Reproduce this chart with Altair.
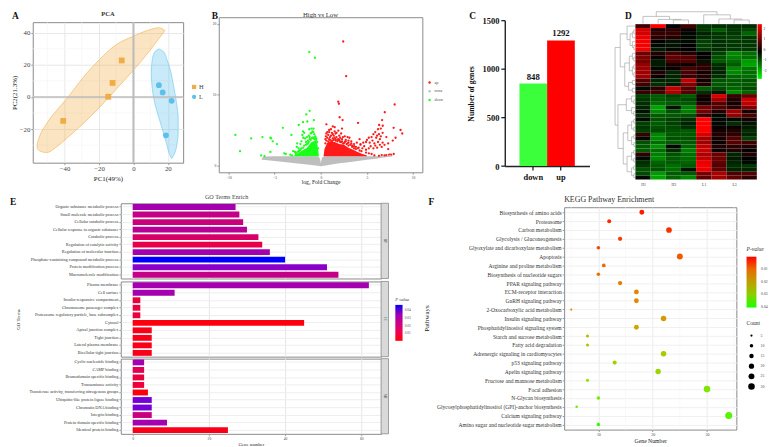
import altair as alt
import pandas as pd

SERIF = "Liberation Serif"
FRAME = "#8a8a8a"

# ---------- A: PCA ----------
pca_group = ["H", "H", "H", "H", "L", "L", "L", "L"]
pca_x = [-40.8, -14.6, -12.1, -6.8, 14.8, 17.0, 22.2, 18.9]
pca_y = [-14.9, 0.1, 8.7, 22.7, 7.3, 2.8, -2.4, -23.9]
h_x = [-55.9, -54.3, -50.5, -44.7, -38.9, -29.3, -19.7, -10.0, -0.4, 9.2, 15.0, 18.3]
h_top = [-29.0, -23.9, -16.7, -8.5, -1.3, 12.0, 23.3, 32.5, 37.6, 41.7, 43.0, 41.3]
h_bot = [-32.1, -33.7, -34.6, -31.1, -25.9, -16.7, -6.5, 4.8, 16.1, 28.4, 36.6, 41.3]
l_y = [29.8, 28.4, 23.3, 15.1, 6.9, -3.4, -13.6, -21.8, -30.0, -35.2, -38.3]
l_left = [15.0, 12.7, 11.0, 10.4, 10.8, 12.3, 15.0, 17.3, 19.5, 20.8, 22.2]
l_right = [15.0, 17.3, 19.5, 21.8, 23.3, 25.0, 26.0, 26.0, 25.2, 23.9, 22.2]
pca_minor_x = [-50, -30, -10, 10]
pca_major_x = [-40, -20, 0, 20]
pca_minor_y = [-30, -10, 10, 30]
pca_major_y = [-20, 0, 20, 40]

# ---------- B: volcano ----------
none_x = [-6.4, -6, -5, -4, -3, -2, -1, -0.4, -0.15, -0.05, 0, 0.05, 0.15, 0.4, 1, 2, 3, 4, 5, 6, 6.8, 7.8]
none_hi = [0.98, 1.26, 1.3, 1.3, 1.3, 1.3, 1.3, 1.3, 1.1, 0.7, 0.3, 0.7, 1.1, 1.3, 1.3, 1.3, 1.3, 1.3, 1.3, 1.3, 1.3, 1.4]
none_lo = [0.8, 0.75, 0.6, 0.47, 0.33, 0.2, 0.05, -0.05, -0.1, -0.13, -0.14, -0.13, -0.1, -0.05, 0.1, 0.28, 0.45, 0.62, 0.8, 0.95, 1.1, 1.3]
up_core_x = [0.3, 0.4, 0.7, 1, 1.5, 2, 2.5, 3, 3.5, 4, 4.5, 5]
up_core_y = [1.3, 2.3, 3.2, 3.4, 3.3, 3.0, 2.9, 2.5, 2.2, 1.9, 1.6, 1.4]
down_core_x = [-3, -2.5, -2, -1.5, -1, -0.6, -0.4, -0.25, -0.2]
down_core_y = [1.3, 1.7, 2.1, 2.5, 3.3, 3.5, 3.2, 1.9, 1.3]
up_x = [2.43, 2.75, 1.89, 1.96, 8.0, 6.93, 2.04, 2.36, 4.04, 6.64, 0.61, 6.32, 6.71, 7.89, 8.64, 8.82, 8.1, 7.8, 7.3,
        1.3, 1.5, 1.1, 0.9, 2.3, 2.2, 1.9, 0.7, 1.2, 1.6, 0.8, 1.4, 2.0, 2.6, 2.9, 1.0, 1.7, 0.55, 0.5, 1.3, 2.3, 2.7, 3.0, 3.3, 2.0, 1.6,
        3.6, 3.9, 2.9, 3.4, 3.8, 4.2, 4.3, 4.1, 4.5, 4.7, 4.4, 4.9, 5.2, 4.9, 5.2, 5.5,
        4.3, 4.6, 4.9, 5.0, 5.2, 5.3, 5.5, 5.6, 5.7, 5.8, 5.9, 6.0, 6.1, 6.2, 6.3, 6.4, 6.5, 6.5, 6.7, 6.2, 5.9, 6.4, 6.7, 5.4, 5.7, 6.1, 6.6, 6.9, 7.1, 7.3,
        5.8, 6.3, 6.6, 6.9, 7.1, 7.4, 7.6, 7.9, 3.1,
        0.5, 0.6, 0.7, 0.8, 0.9, 1.0, 1.1, 1.2, 1.3, 1.4, 1.5, 1.6, 1.7, 1.8, 1.9, 2.0, 2.1, 2.2, 2.3, 2.4, 2.5, 2.6, 2.8, 3.0, 3.2, 3.4, 3.6, 3.8, 4.0, 4.2,
        0.6, 0.9, 1.2, 1.5, 1.8, 2.1, 2.4, 2.7, 3.0, 3.3, 3.6]
up_y = [17.5, 12.6, 9.0, 8.7, 8.6, 7.5, 6.8, 6.4, 6.0, 6.4, 5.8, 5.7, 5.6, 5.3, 5.0, 4.5, 3.9, 3.5, 3.1,
        5.5, 5.4, 5.1, 5.0, 5.2, 4.5, 4.9, 4.7, 4.6, 4.5, 4.3, 4.2, 4.2, 4.1, 4.0, 4.0, 4.0, 4.1, 3.7, 3.8, 3.7, 3.6, 3.5, 3.4, 3.6, 3.7,
        3.0, 3.2, 3.1, 2.8, 2.6, 3.7, 2.9, 2.5, 2.4, 2.7, 2.0, 2.2, 2.4, 1.8, 1.7, 1.6,
        3.0, 3.2, 3.3, 3.6, 3.9, 3.2, 4.0, 3.5, 4.4, 3.1, 4.7, 3.9, 4.2, 5.1, 4.4, 3.7, 5.2, 4.1, 4.6, 3.3, 2.8, 2.9, 3.2, 2.7, 2.4, 2.5, 2.6, 2.9, 4.0, 2.3,
        1.4, 1.35, 1.45, 1.4, 1.45, 1.5, 1.5, 1.6, 3.9,
        3.1, 3.5, 3.9, 3.4, 3.7, 3.6, 4.2, 3.5, 4.4, 3.6, 3.9, 3.5, 4.6, 3.4, 3.7, 3.5, 3.9, 3.3, 3.4, 4.0, 3.1, 3.3, 3.0, 3.2, 2.9, 2.6, 2.7, 2.3, 2.4, 2.1,
        4.5, 4.7, 3.3, 4.8, 3.6, 3.3, 3.1, 3.4, 2.8, 3.1, 2.4]
down_x = [-1.25, -0.64, -1.21, -1.57, -0.75, -1.46, -1.93, -2.39, -4.11, -1.0, -1.25, -0.79, -1.93, -3.18, -9.25, -7.54, -6.32, -5.46, -5.39, -5.21, -4.75, -8.75, -5.46, -6.46, -6.1, -3.96, -3.79,
          -3.0, -2.8, -2.6, -2.55, -2.4, -2.2, -2.1, -2.0, -1.9, -1.8, -1.7, -1.6, -1.5, -1.4, -1.3, -1.2, -1.1, -1.0, -0.9, -0.8, -0.7, -0.6, -0.5, -0.9, -2.3, -2.7, -3.3, -3.1,
          -0.3, -0.4, -0.5, -0.6, -0.7, -0.8, -1.0, -1.1, -1.2, -1.3, -1.4, -1.5, -1.6, -1.8, -1.9, -2.1, -2.2, -2.4, -2.5, -2.7]
down_y = [16.0, 15.2, 7.7, 7.2, 6.4, 6.2, 6.1, 5.7, 5.3, 5.2, 5.1, 5.2, 4.8, 4.3, 4.3, 3.8, 4.0, 3.9, 3.8, 3.4, 3.0, 2.0, 1.9, 1.4, 1.3, 1.7, 1.6,
          2.0, 1.9, 2.6, 3.1, 2.4, 3.0, 3.4, 4.3, 3.9, 4.6, 3.8, 3.3, 4.0, 3.5, 4.2, 3.7, 4.5, 4.6, 4.8, 4.7, 4.4, 4.0, 3.8, 3.9, 2.1, 1.6, 1.5, 1.4,
          2.4, 3.3, 3.6, 4.1, 3.7, 3.9, 3.8, 3.6, 4.0, 3.3, 3.1, 3.0, 2.9, 2.8, 2.5, 2.4, 2.2, 2.0, 1.9, 1.8]
flat_x = [-6.2, 7.5]
flat_y = [1.05, 1.35]

# ---------- C: bars ----------
deg_names = ["down", "up"]
deg_counts = [848, 1292]

# ---------- D: heatmap ----------
heat_cols = ["H1", "H2", "H3", "H4", "L1", "L2", "L3", "L4"]
heat = [
    [0.6, 2.4, 0, 0.6, -0.6, -0.5, -0.5, -0.5],
    [2.0, 0.3, 0.4, 0.1, -0.6, -1.0, -0.6, -0.8],
    [2.0, 0.5, 0.5, -0.1, -0.4, -0.6, -0.6, -1.1],
    [2.2, 0.4, 0.3, -0.1, -0.5, -0.6, -0.7, -0.6],
    [2.3, 0, -0.2, -0.1, -0.7, -0.5, -0.6, -0.6],
    [2.3, -0.1, -0.2, 0, -0.7, -0.5, -0.6, -0.6],
    [2.3, -0.3, -0.1, 0, -0.6, -0.5, -0.6, -0.6],
    [1.0, 0.3, 0.6, 0.3, 0, -0.7, -1.5, -1.2],
    [1.2, 0.1, 0.9, 0.8, 0.1, -0.9, -1.4, -1.2],
    [1.1, -0.3, 0.7, 0.8, -0.2, -1.0, -1.2, -1.7],
    [1.4, -0.3, 0.2, 0.1, 0.4, -0.5, -1.0, -1.8],
    [1.5, -0.1, 0.1, 0.7, 0.4, -0.4, -1.5, -1.3],
    [1.5, 0.3, -0.4, 0.7, 0.2, -0.4, -1.5, -1.2],
    [1.5, 0.1, -0.4, 0.5, 0.3, -0.5, -1.1, -1.2],
    [0.8, -0.4, -0.4, 1.8, 0.2, -0.9, -1.0, -0.9],
    [0.6, -0.5, -0.3, 1.2, 0.3, -1.0, -1.0, -1.0],
    [-0.1, 0.4, 1.8, 0.8, -1.0, -0.8, -1.1, -0.8],
    [0.5, 0.6, 1.6, 0.8, -0.5, -0.3, -1.5, -1.1],
    [-0.7, -1.0, -0.7, -1.0, 0.2, 2.0, 0.5, 1.0],
    [-0.6, -1.0, -0.9, -0.8, 0.1, 1.5, 0.3, 1.9],
    [-0.5, -1.2, -1.0, -1.0, 0.3, 0.8, 0.2, 1.8],
    [-0.4, -1.8, -0.2, -1.4, 1.1, 0.8, 0.4, 1.2],
    [-0.2, -1.5, -0.9, -1.4, 1.1, 0.3, 1.5, 0.2],
    [-0.5, -1.0, -1.0, -0.9, 0.5, -0.1, 1.4, 0.7],
    [-0.1, -0.9, -0.7, -0.5, 2.4, -0.1, -0.1, 0.2],
    [-0.7, -1.0, -0.7, -0.4, 2.4, -0.1, -0.5, -0.2],
    [-0.6, -0.9, -0.8, -0.5, 2.4, 0.1, 0.1, -0.3],
    [-0.7, -0.8, -0.9, -1.0, 2.4, 0.2, 0.3, -0.5],
    [0.5, -1.5, -1.0, -1.0, 2.0, 0.3, 0.4, -0.4],
    [-0.1, -1.5, -0.9, -0.9, 1.5, 0.2, 0.8, -0.7],
    [-0.9, -1.2, -1.0, -1.0, 1.5, 0.1, 0.8, 0.6],
    [-1.0, -1.6, -0.1, -1.1, 1.8, 0.3, 0.4, 0.3],
    [-1.0, -1.2, -0.5, -1.4, 1.9, 0.1, 0.3, 0],
    [0.4, -1.4, -0.9, -1.2, 1.6, 1.0, -0.4, 0.3],
    [-0.1, -1.5, -1.0, -1.2, 1.8, 1.0, -0.3, 0],
    [-0.5, -1.1, -1.0, -1.1, 2.2, 0.9, -0.4, -0.1],
    [-0.6, -1.0, -1.2, -1.0, 2.3, 0.8, -0.5, -0.6],
    [-0.9, -0.9, -1.2, -0.2, 2.2, 0.9, -0.4, -0.4],
    [-0.8, -1.7, -1.0, -1.0, 1.1, 1.6, 0.7, 0.8],
    [-0.1, -1.8, -1.1, -1.5, 0.9, 1.5, 0.9, 0.4],
]
heat_legend_labels = ["2", "1", "0", "-1", "-2"]
# dendrogram brackets: level, span start, span end, child level at start, child level at end
col_tree = [
    (-3.2, 1.375, 5.375, -2.0, -2.4),
    (-2.0, 0.5, 2.25, -0.1, -1.22),
    (-1.22, 1.5, 3.0, -0.1, -1.07),
    (-1.07, 2.5, 3.5, -0.1, -0.1),
    (-2.4, 4.5, 6.25, -0.1, -1.32),
    (-1.32, 5.5, 7.0, -0.1, -1.07),
    (-1.07, 6.5, 7.5, -0.1, -0.1),
]
row_tree = [
    (-1.34, 6, 26, -1.0, -1.15),
    (-1.0, 2.5, 11, -0.55, -0.7),
    (-0.55, 0.5, 4, -0.02, -0.35),
    (-0.35, 2.5, 5.5, -0.2, -0.2),
    (-0.2, 2, 3.5, -0.1, -0.02),
    (-0.1, 1.5, 2.5, -0.02, -0.02),
    (-0.2, 4.5, 6, -0.02, -0.1),
    (-0.1, 5.5, 6.5, -0.02, -0.02),
    (-0.7, 10, 16, -0.4, -0.45),
    (-0.4, 8.25, 12, -0.2, -0.2),
    (-0.2, 7.5, 9, -0.02, -0.1),
    (-0.1, 8.5, 9.5, -0.02, -0.02),
    (-0.2, 11, 13, -0.1, -0.1),
    (-0.1, 10.5, 11.5, -0.02, -0.02),
    (-0.1, 12.5, 13.5, -0.02, -0.02),
    (-0.45, 15, 17, -0.2, -0.2),
    (-0.2, 14.5, 15.5, -0.02, -0.02),
    (-0.2, 16.5, 17.5, -0.02, -0.02),
    (-1.15, 20.75, 32, -0.6, -0.8),
    (-0.6, 19.25, 22.25, -0.25, -0.25),
    (-0.25, 18.5, 20, -0.02, -0.1),
    (-0.1, 19.5, 20.5, -0.02, -0.02),
    (-0.25, 21.5, 23, -0.02, -0.1),
    (-0.1, 22.5, 23.5, -0.02, -0.02),
    (-0.8, 28, 36, -0.5, -0.55),
    (-0.5, 26, 30, -0.25, -0.25),
    (-0.25, 25, 27, -0.1, -0.1),
    (-0.1, 24.5, 25.5, -0.02, -0.02),
    (-0.1, 26.5, 27.5, -0.02, -0.02),
    (-0.25, 29, 31, -0.1, -0.1),
    (-0.1, 28.5, 29.5, -0.02, -0.02),
    (-0.1, 30.5, 31.5, -0.02, -0.02),
    (-0.55, 34, 38, -0.25, -0.25),
    (-0.25, 33, 35, -0.1, -0.1),
    (-0.1, 32.5, 33.5, -0.02, -0.02),
    (-0.1, 34.5, 35.5, -0.02, -0.02),
    (-0.25, 37, 39, -0.1, -0.1),
    (-0.1, 36.5, 37.5, -0.02, -0.02),
    (-0.1, 38.5, 39.5, -0.02, -0.02),
]

# ---------- E: GO ----------
bp_names = ["Organic substance metabolic process", "Small molecule metabolic process", "Cellular catabolic process",
            "Cellular response to organic substance", "Catabolic process", "Regulation of catalytic activity",
            "Regulation of molecular function", "Phosphate-containing compound metabolic process",
            "Protein modification process", "Macromolecule modification"]
bp_genes = [27, 28, 29, 30, 33, 34, 36, 40, 51, 54]
bp_p = [0.03, 0.022, 0.02, 0.025, 0.016, 0.01, 0.03, 0.045, 0.035, 0.022]
cc_names = ["Plasma membrane", "Cell surface", "Insulin-responsive compartment", "Chromosome passenger complex",
            "Proteasome regulatory particle, base subcomplex", "Cytosol", "Apical junction complex", "Tight junction",
            "Lateral plasma membrane", "Bicellular tight junction"]
cc_genes = [62, 11, 2, 2, 2, 45, 5, 5, 5, 5]
cc_p = [0.03, 0.03, 0.008, 0.008, 0.008, 0.001, 0.002, 0.002, 0.002, 0.002]
mf_names = ["Cyclic nucleotide binding", "CAMP binding", "Bromodomain specific binding", "Transaminase activity",
            "Transferase activity, transferring nitrogenous groups", "Ubiquitin-like protein ligase binding",
            "Chromatin DNA binding", "Integrin binding", "Protein domain specific binding", "Identical protein binding"]
mf_genes = [3, 3, 3, 3, 4, 5, 5, 5, 9, 25]
mf_p = [0.03, 0.012, 0.008, 0.007, 0.001, 0.038, 0.038, 0.02, 0.03, 0.002]
go_legend_labels = ["0.04", "0.03", "0.02", "0.01"]

# ---------- F: KEGG ----------
kegg_names = ["Biosynthesis of amino acids", "Proteasome", "Carbon metabolism", "Glycolysis / Gluconeogenesis",
              "Glyoxylate and dicarboxylate metabolism", "Apoptosis", "Arginine and proline metabolism",
              "Biosynthesis of nucleotide sugars", "PPAR signaling pathway", "ECM-receptor interaction",
              "GnRH signaling pathway", "2-Oxocarboxylic acid metabolism", "Insulin signaling pathway",
              "Phosphatidylinositol signaling system", "Starch and sucrose metabolism", "Fatty acid degradation",
              "Adrenergic signaling in cardiomyocytes", "p53 signaling pathway", "Apelin signaling pathway",
              "Fructose and mannose metabolism", "Focal adhesion", "N-Glycan biosynthesis",
              "Glycosylphosphatidylinositol (GPI)-anchor biosynthesis", "Calcium signaling pathway",
              "Amino sugar and nucleotide sugar metabolism"]
kegg_genes = [18, 12, 23, 14, 10, 25, 11, 10, 14, 17, 17, 5, 22, 17, 8, 8, 22, 13, 21, 8, 30, 10, 6, 34, 10]
kegg_p = [0.001, 0.0015, 0.002, 0.003, 0.004, 0.006, 0.008, 0.009, 0.011, 0.013, 0.0135, 0.014, 0.017, 0.019,
          0.022, 0.026, 0.027, 0.029, 0.03, 0.032, 0.034, 0.035, 0.036, 0.038, 0.04]
kegg_minor = [5, 15, 25, 35]
kegg_legend_labels = ["0.01", "0.02", "0.03", "0.04"]
count_ticks = [5, 10, 15, 20, 25, 30]

one = pd.DataFrame({"a": [0]})


def spacer(w, h):
    return alt.Chart(one).mark_point(opacity=0, size=1).encode(x=alt.value(0), y=alt.value(0)).properties(width=w, height=h)


def letter(t, dx, dy):
    return alt.Chart(one).mark_text(text=t, font=SERIF, fontSize=9.5, fontWeight="bold", align="left", baseline="middle", color="#111").encode(
        x=alt.value(dx), y=alt.value(dy))


def note(t, dx, dy, size=4, color="#444", align="left", **kw):
    return alt.Chart(one).mark_text(text=t, font=SERIF, fontSize=size, color=color, align=align, baseline="middle", **kw).encode(
        x=alt.value(dx), y=alt.value(dy))


def gradient_bar(x0, x1, y0, y1, colours):
    stops = [{"offset": i / (len(colours) - 1), "color": c} for i, c in enumerate(colours)]
    return alt.Chart(one).mark_rect(fill={"gradient": "linear", "x1": 0, "y1": 0, "x2": 0, "y2": 1, "stops": stops}).encode(
        x=alt.value(x0), x2=alt.value(x1), y=alt.value(y0), y2=alt.value(y1))


def place(y, *charts):
    # y is the wanted top of the panel in page pixels
    return alt.vconcat(spacer(1, y - 8), *charts, spacing=0, bounds="flush")


# ---------- panel A ----------
sx = alt.Scale(domain=[-58.5, 28.9], nice=False, zero=False)
sy = alt.Scale(domain=[-40.9, 46.5], nice=False, zero=False)
ax_a_x = alt.Axis(title="PC1(49%)", values=pca_major_x, grid=True, gridColor="#e8e8e8", labelFontSize=6.8, titleFontSize=7,
                  tickSize=2, tickColor="#666", labelColor="#444", titleColor="#222", labelPadding=1, domain=False, titlePadding=2)
ax_a_y = alt.Axis(title="PC2(21.3%)", values=pca_major_y, grid=True, gridColor="#e8e8e8", labelFontSize=6.8, titleFontSize=7,
                  tickSize=2, tickColor="#666", labelColor="#444", titleColor="#222", labelPadding=1, domain=False, titleX=-15, titleY=71)

pca_df = pd.DataFrame({"PC1": pca_x, "PC2": pca_y, "group": pca_group})
h_df = pd.DataFrame({"x": h_x, "top": h_top, "bot": h_bot})
l_df = pd.DataFrame({"y": l_y, "l": l_left, "r": l_right})

a = alt.layer(
    alt.Chart(pd.DataFrame({"v": pca_minor_x})).mark_rule(color="#f4f4f4", strokeWidth=0.6).encode(x=alt.X("v:Q", scale=sx, axis=ax_a_x)),
    alt.Chart(pd.DataFrame({"v": pca_minor_y})).mark_rule(color="#f4f4f4", strokeWidth=0.6).encode(y=alt.Y("v:Q", scale=sy, axis=ax_a_y)),
    alt.Chart(h_df).mark_area(interpolate="monotone", fill="#F0AC45", fillOpacity=0.33, stroke="#F3BE72", strokeWidth=0.8).encode(
        x=alt.X("x:Q", scale=sx), y=alt.Y("top:Q", scale=sy), y2="bot:Q"),
    alt.Chart(l_df).mark_area(orient="horizontal", interpolate="monotone", fill="#5BC0EB", fillOpacity=0.33, stroke="#86D0F0", strokeWidth=0.8).encode(
        y=alt.Y("y:Q", scale=sy), x=alt.X("l:Q", scale=sx), x2="r:Q"),
    alt.Chart(pd.DataFrame({"v": [0]})).mark_rule(color="#bdbdbd", strokeWidth=2).encode(x=alt.X("v:Q", scale=sx)),
    alt.Chart(pd.DataFrame({"v": [0]})).mark_rule(color="#bdbdbd", strokeWidth=1.5).encode(y=alt.Y("v:Q", scale=sy)),
    alt.Chart(pca_df).mark_point(filled=True, opacity=1, size=34).encode(
        x=alt.X("PC1:Q", scale=sx), y=alt.Y("PC2:Q", scale=sy),
        color=alt.Color("group:N", scale=alt.Scale(domain=["H", "L"], range=["#F0AC45", "#5BC0EB"]), legend=None),
        shape=alt.Shape("group:N", scale=alt.Scale(domain=["H", "L"], range=["square", "circle"]), legend=None)),
    letter("A", -21, -6.5),
    note("PCA", 76, -8, size=6.5, color="#333", align="center", fontWeight="bold"),
    alt.Chart(one).mark_square(color="#F0AC45", opacity=1, size=18).encode(x=alt.value(163), y=alt.value(65.5)),
    alt.Chart(one).mark_circle(color="#5BC0EB", opacity=1, size=18).encode(x=alt.value(163), y=alt.value(75.5)),
    note("H", 168, 65.5, size=6.5),
    note("L", 168, 75.5, size=6.5),
).properties(width=152, height=142, view=alt.ViewBackground(stroke=FRAME, strokeWidth=1))

# ---------- panel B ----------
vx = alt.Scale(domain=[-11.05, 11.0], nice=False, zero=False)
vy = alt.Scale(domain=[-0.98, 20.93], nice=False, zero=False)
grey_df = pd.DataFrame({"x": none_x, "hi": none_hi, "lo": none_lo})
up_core = pd.DataFrame({"x": up_core_x, "hi": up_core_y, "lo": [1.3] * len(up_core_x)})
down_core = pd.DataFrame({"x": down_core_x, "hi": down_core_y, "lo": [1.3] * len(down_core_x)})
pts = pd.DataFrame({
    "x": up_x + flat_x + down_x,
    "y": up_y + flat_y + down_y,
    "status": ["up"] * len(up_x) + ["none"] * len(flat_x) + ["down"] * len(down_x),
})
b = alt.layer(
    alt.Chart(grey_df).mark_area(color="#bebebe").encode(
        x=alt.X("x:Q", scale=vx, axis=alt.Axis(title="log₂ Fold Change", values=[-10, -5, 0, 5, 10], grid=False, labelFontSize=3.6, titleFontSize=5.6,
                                               tickSize=2, tickColor="#666", labelColor="#444", titleColor="#222", labelPadding=1, domain=False, titlePadding=1)),
        y=alt.Y("hi:Q", scale=vy, axis=alt.Axis(title=None, values=[0, 5, 10, 15, 20], grid=False, labelFontSize=3.6, tickSize=2, tickColor="#666",
                                                labelColor="#444", labelPadding=1, domain=False)),
        y2="lo:Q"),
    alt.Chart(up_core).mark_area(color="#ff1a1a").encode(x=alt.X("x:Q", scale=vx), y=alt.Y("hi:Q", scale=vy), y2="lo:Q"),
    alt.Chart(down_core).mark_area(color="#1aff1a").encode(x=alt.X("x:Q", scale=vx), y=alt.Y("hi:Q", scale=vy), y2="lo:Q"),
    alt.Chart(pts).mark_circle(size=5.5, opacity=1).encode(
        x=alt.X("x:Q", scale=vx), y=alt.Y("y:Q", scale=vy),
        color=alt.Color("status:N", scale=alt.Scale(domain=["up", "none", "down"], range=["#ff1a1a", "#bebebe", "#1aff1a"]),
                        legend=alt.Legend(title=None, orient="none", legendX=211, legendY=70, labelFontSize=4, labelFontStyle="italic",
                                          labelColor="#444", symbolSize=6, rowPadding=4.8, labelOffset=3))),
    letter("B", -7, -0.8),
    note("High vs Low", 102.8, -2.3, size=6.8, color="#333", align="center"),
).properties(width=205.7, height=156.7, view=alt.ViewBackground(stroke=FRAME, strokeWidth=1))

# ---------- panel C ----------
c_df = pd.DataFrame({"name": deg_names, "n": deg_counts})
cx = alt.X("name:N", sort=deg_names, scale=alt.Scale(paddingInner=0, paddingOuter=0.53),
           axis=alt.Axis(title=None, labelAngle=0, labelFontSize=8.5, labelFontWeight="bold", labelColor="#111", tickSize=4, tickWidth=1.3,
                         tickColor="#222", domainColor="#222", domainWidth=1.4, grid=False, labelPadding=3))
cy = alt.Y("n:Q", scale=alt.Scale(domain=[0, 1500], nice=False),
           axis=alt.Axis(title="Number of genes", values=[0, 500, 1000, 1500], format="d", labelFontSize=8.5, labelFontWeight="bold", labelColor="#111",
                         titleFontSize=7.8, titleFontWeight="bold", titleColor="#111", tickSize=4, tickWidth=1.3, tickColor="#222",
                         domainColor="#222", domainWidth=1.4, grid=False, labelPadding=2, titleX=-30, titleY=74))
c = alt.layer(
    alt.Chart(c_df).mark_bar().encode(x=cx, y=cy, color=alt.Color("name:N", scale=alt.Scale(domain=deg_names, range=["#3CFF3C", "#FF0000"]), legend=None)),
    alt.Chart(c_df).mark_text(font=SERIF, fontSize=8.8, fontWeight="bold", baseline="bottom", dy=-2, color="#111").encode(x=cx, y=cy, text="n:Q"),
    letter("C", -36, -3.8),
).properties(width=85.6, height=147.4)

# ---------- panel D ----------
hx = alt.Scale(domain=[0, 8], nice=False, zero=False)
hy = alt.Scale(domain=[40, 0], nice=False, zero=False)
heat_rows = []
for r, row in enumerate(heat):
    for k, v in enumerate(row):
        heat_rows.append({"c": k, "c2": k + 1, "r": r, "r2": r + 1, "z": v})
heat_df = pd.DataFrame(heat_rows)


def col_segments(tree):
    out = []
    for lvl, s, e, cs, ce in tree:
        out.append({"x": s, "x2": e, "y": lvl, "y2": lvl})
        out.append({"x": s, "x2": s, "y": lvl, "y2": cs})
        out.append({"x": e, "x2": e, "y": lvl, "y2": ce})
    return pd.DataFrame(out)


def row_segments(tree):
    out = []
    for lvl, s, e, cs, ce in tree:
        out.append({"x": lvl, "x2": lvl, "y": s, "y2": e})
        out.append({"x": lvl, "x2": cs, "y": s, "y2": s})
        out.append({"x": lvl, "x2": ce, "y": e, "y2": e})
    return pd.DataFrame(out)


def tree_layer(df):
    return alt.Chart(df).mark_rule(color="#9a9a9a", strokeWidth=0.6).encode(
        x=alt.X("x:Q", scale=hx), x2="x2:Q", y=alt.Y("y:Q", scale=hy), y2="y2:Q")


label_array = "[" + ",".join("'%s'" % n for n in heat_cols) + "]"
d_layers = [
    alt.Chart(heat_df).mark_rect(stroke=None).encode(
        x=alt.X("c:Q", scale=hx, axis=alt.Axis(title=None, values=[i + 0.5 for i in range(8)], labelExpr=label_array + "[floor(datum.value)]",
                                               labelFontSize=3.8, labelColor="#333", domain=False, ticks=False, grid=False, labelPadding=3)),
        x2="c2:Q",
        y=alt.Y("r:Q", scale=hy, axis=None),
        y2="r2:Q",
        color=alt.Color("z:Q", scale=alt.Scale(domain=[-2.8, 0, 2.4], range=["#00FF00", "#000000", "#FF0000"], interpolate="rgb"), legend=None)),
    tree_layer(col_segments(col_tree)),
    tree_layer(row_segments(row_tree)),
    letter("D", -10.5, -8.2),
    gradient_bar(123.4, 127.8, 0, 55.3, ["#FF0000", "#000000", "#00FF00"]),
]
for i, lab in enumerate(heat_legend_labels):
    d_layers.append(note(lab, 129.5, 4.6 + i * 10.7, size=3.6, color="#333"))
d = alt.layer(*d_layers).properties(width=122.7, height=157)


# ---------- panel E ----------
ex = alt.Scale(domain=[-3.12, 65.2], nice=False, zero=False)
ep = alt.Scale(domain=[0, 0.045], range=["#FF0000", "#0000FF"], interpolate="lab")


def go_panel(names, genes, ps, strip, show_x=False, extra=(), ytitle=None):
    df = pd.DataFrame({"name": names, "genes": genes, "p": ps})
    xaxis = alt.Axis(title="Gene number" if show_x else None, values=[0, 20, 40, 60], labels=show_x, ticks=show_x, grid=True, gridColor="#e6e6e6",
                     domain=False, labelFontSize=3.6, titleFontSize=4.8, labelColor="#444", titleColor="#222", tickSize=2, tickColor="#666",
                     labelPadding=1, titlePadding=1)
    yargs = dict(title=ytitle, labelFontSize=4.3, labelColor="#333", labelLimit=300, tickSize=2, tickColor="#666", grid=True,
                 gridColor="#eeeeee", domain=False, labelPadding=1)
    if ytitle:
        yargs.update(titleX=-101, titleY=38, titleFontSize=5, titleColor="#222")
    layers = [
        alt.Chart(df).mark_bar().encode(
            x=alt.X("genes:Q", scale=ex, axis=xaxis),
            y=alt.Y("name:N", sort=names, scale=alt.Scale(paddingInner=0.22, paddingOuter=0.11), axis=alt.Axis(**yargs)),
            color=alt.Color("p:Q", scale=ep, legend=None)),
        alt.Chart(one).mark_rect(fill="#d9d9d9", stroke=FRAME, strokeWidth=0.8).encode(
            x=alt.value(263), x2=alt.value(270.5), y=alt.value(0), y2=alt.value(76)),
        alt.Chart(one).mark_text(text=strip, font=SERIF, fontSize=3.5, angle=90, color="#333").encode(x=alt.value(266.8), y=alt.value(38)),
    ]
    layers.extend(extra)
    return alt.layer(*layers).properties(width=263, height=76, view=alt.ViewBackground(stroke=FRAME, strokeWidth=1))


go_legend = [note("P value", 277.4, 19, size=4.6, color="#333", fontStyle="italic"),
             gradient_bar(277.4, 284.7, 23.7, 60, ["#0000FF", "#9600B9", "#CA0088", "#EE0056", "#FF0000"])]
for i, lab in enumerate(go_legend_labels):
    go_legend.append(note(lab, 287, 29 + i * 7.8, size=3.4))

e1 = go_panel(bp_names, bp_genes, bp_p, "BP",
              extra=[letter("E", -112, -1), note("GO Terms Enrich", 85, -6.7, size=6.2, color="#444")])
e2 = go_panel(cc_names, cc_genes, cc_p, "CC", extra=go_legend, ytitle="GO Terms")
e3 = go_panel(mf_names, mf_genes, mf_p, "MF", show_x=True)

# ---------- panel F ----------
fx = alt.Scale(domain=[3.7, 35.4], nice=False, zero=False)
kegg_df = pd.DataFrame({"name": kegg_names, "genes": kegg_genes, "p": kegg_p})
f_layers = [
    alt.Chart(pd.DataFrame({"v": kegg_minor})).mark_rule(color="#f5f5f5", strokeWidth=0.6).encode(x=alt.X("v:Q", scale=fx)),
    alt.Chart(kegg_df).mark_circle(opacity=1).encode(
        x=alt.X("genes:Q", scale=fx, axis=alt.Axis(title="Gene Number", values=[10, 20, 30], grid=True, gridColor="#ececec", domain=False, labelFontSize=4,
                                                   titleFontSize=5.8, labelColor="#444", titleColor="#222", tickSize=2, tickColor="#666", labelPadding=1,
                                                   titlePadding=1)),
        y=alt.Y("name:N", sort=kegg_names, scale=alt.Scale(type="point", padding=0.58),
                axis=alt.Axis(title="Pathways", labelFontSize=5.6, labelColor="#333", labelLimit=300, tickSize=2, tickColor="#555", grid=True,
                              gridColor="#f0f0f0", domain=False, labelPadding=1, titleFontSize=7, titleColor="#222", titleX=-136, titleY=112)),
        color=alt.Color("p:Q", scale=alt.Scale(domain=[0.0405, 0.0003], range=["#1CFF00", "#FF0000"], interpolate="lab"), legend=None),
        size=alt.Size("genes:Q", scale=alt.Scale(domain=[5, 34], range=[5, 50]), legend=None)),
    letter("F", -137, -5),
    note("KEGG Pathway Enrichment", 0, -7.3, size=8, color="#333"),
    note("P-value", 184.3, 42, size=5.6, color="#333", fontStyle="italic"),
    gradient_bar(184.3, 194.3, 50, 101.4, ["#FF0000", "#E76C00", "#BFA000", "#88D000", "#1CFF00"]),
    note("Count", 184.3, 117.5, size=5.6, color="#333"),
]
for i, lab in enumerate(kegg_legend_labels):
    f_layers.append(note(lab, 199, 62.4 + i * 12.7, size=3.8))
for i, n in enumerate(count_ticks):
    f_layers.append(alt.Chart(one).mark_circle(color="black", opacity=1, size=5 + (n - 5) * 45 / 29).encode(
        x=alt.value(189.3), y=alt.value(129.7 + i * 10.3)))
    f_layers.append(note(str(n), 198.5, 129.7 + i * 10.3, size=3.8))
f = alt.layer(*f_layers).properties(width=174, height=224.7, view=alt.ViewBackground(stroke=FRAME, strokeWidth=1))

# ---------- page ----------
chart = alt.hconcat(
    spacer(32 - 8, 1),
    place(19, a),
    spacer(120.3 - 32, 1),
    place(201.7, e1, spacer(1, 2.3), e2, spacer(1, 2), e3),
    spacer(218.3 - 120.3, 1),
    place(13.3, b),
    spacer(506.7 - 218.3, 1),
    place(16.3, c),
    spacer(565.7 - 506.7, 1),
    place(205.3, f),
    spacer(637.3 - 565.7, 1),
    place(20.7, d),
    spacing=0,
    bounds="flush",
).properties(padding=0).configure_axis(
    labelFont=SERIF, titleFont=SERIF, titleFontWeight="normal", tickWidth=0.6,
).configure_legend(
    labelFont=SERIF, titleFont=SERIF, titleFontWeight="normal",
).configure_view(stroke=None).configure_text(font=SERIF)

chart.save("out.html", embed_options={"renderer": "svg", "actions": False})
